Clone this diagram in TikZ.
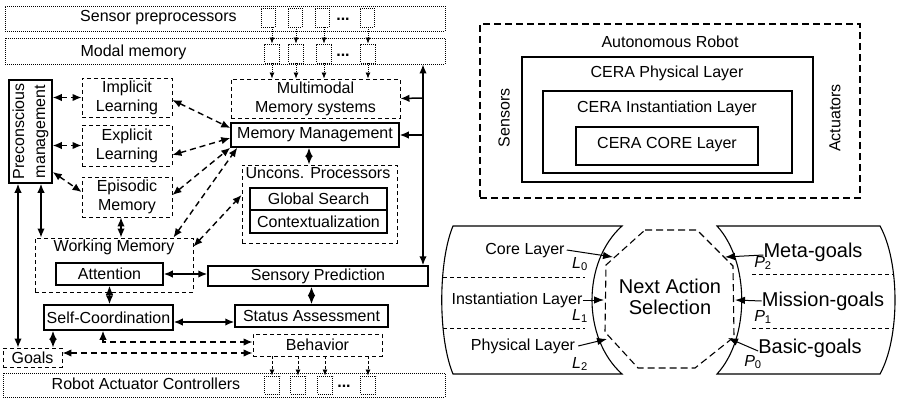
\documentclass[tikz,border=0pt]{standalone}
\usepackage{fontspec}
\setmainfont{Liberation Sans}
\usetikzlibrary{arrows.meta}
\begin{document}
\begin{tikzpicture}[x=1pt,y=-1pt,
  txt/.style={font=\fontsize{16}{19}\selectfont, align=center, inner sep=0pt},
  big/.style={font=\fontsize{20}{21}\selectfont, align=center, inner sep=0pt},
  sz/.style 2 args={minimum width=#1pt, minimum height=#2pt},
  solidbox/.style={draw, line width=1.5pt, txt},
  dashbox/.style={draw, line width=0.9pt, dash pattern=on 4pt off 3pt, txt},
  dotbox/.style={draw, line width=0.9pt, dash pattern=on 1pt off 1pt, txt},
  hd/.tip={Latex[length=9pt,width=7.5pt]},
  sh/.tip={Latex[length=6pt,width=5pt]},
  lh/.tip={Latex[length=10pt,width=7.5pt]},
  link/.style={line width=1.5pt, hd-hd},
  onelink/.style={line width=1.5pt, -hd},
  dlink/.style={line width=1.4pt, dash pattern=on 6pt off 4pt, hd-hd},
  feed/.style={line width=0.8pt, dash pattern=on 1pt off 1pt, -sh},
  outfeed/.style={line width=0.8pt, dash pattern=on 3pt off 2pt, -sh},
  thin/.style={line width=1pt, -lh},
]
\useasboundingbox (0,0) rectangle (899,401);

% ---------- cognitive architecture ----------
\node[dotbox, sz={440}{25}] (sens) at (225,18.5) {};
\node[txt] at (158.5,18) {Sensor preprocessors};
\node[dotbox, sz={440}{26}] (modal) at (225,51) {};
\node[txt] at (133.5,52) {Modal memory};
\node[dotbox, sz={442}{24}] (act) at (224,385) {};
\node[txt] at (146,384) {Robot Actuator Controllers};

% small channel boxes
\foreach \i/\x in {1/268,2/295,3/322,4/367} {\node[dotbox, sz={14}{19}] (s\i) at (\x,17.5) {};}
\foreach \i/\x in {1/272,2/296,3/324,4/368} {\node[dotbox, sz={15}{19}] (m\i) at (\x,53.5) {};}
\foreach \i/\x in {1/272,2/298,3/325,4/368} {\node[dotbox, sz={15}{18}] (a\i) at (\x,385) {};}
\node[txt, font=\bfseries\fontsize{16}{19}\selectfont] at (343,19) {...};
\node[txt, font=\bfseries\fontsize{16}{19}\selectfont] at (343,55) {...};
\node[txt, font=\bfseries\fontsize{16}{19}\selectfont] at (344,386) {...};

\node[dashbox, sz={169}{39}] (multi) at (315.5,98.5) {Multimodal\\Memory systems};
\node[solidbox, sz={168}{24}] (mm) at (315,135) {Memory Management};
\node[dashbox, sz={90}{39}] (imp) at (127,97.5) {Implicit\\Learning};
\node[dashbox, sz={90}{41}] (exp) at (127,145.5) {Explicit\\Learning};
\node[dashbox, sz={90}{40}] (epi) at (127,197) {Episodic\\Memory};
\node[solidbox, sz={43}{103}] (pre) at (30.5,131.5) {};
\node[txt, rotate=90, font=\fontsize{16}{21}\selectfont] at (pre.center) {Preconscious\\management};

\node[dashbox, sz={155}{78}] (unc) at (319.5,204) {};
\node[txt] at (318,173) {Uncons. Processors};
\node[solidbox, sz={137}{22}] (gs) at (318.5,199) {Global Search};
\node[solidbox, sz={137}{23}] (ctx) at (318.5,221.5) {Contextualization};

\node[dashbox, sz={158}{54}] (wm) at (114,265) {};
\node[txt] at (114,247) {Working Memory};
\node[solidbox, sz={107}{22}] (att) at (109.5,274) {Attention};
\node[solidbox, sz={220}{20}] (sp) at (318,276) {Sensory Prediction};
\node[solidbox, sz={129}{25}] (sc) at (108.5,317.5) {Self-Coordination};
\node[solidbox, sz={153}{22}] (st) at (311.5,316) {Status Assessment};
\node[dashbox, sz={129}{22}] (beh) at (317.5,345) {Behavior};
\node[dashbox, sz={59}{19}] (goals) at (32.5,357.5) {Goals};

% channel feeds
\foreach \i in {1,2,3,4} {
  \draw[feed] (s\i.south -| m\i.north) -- (m\i.north);
  \draw[feed] (m\i.south) -- (m\i.south |- multi.north);
  \draw[outfeed] (beh.south -| a\i.north) -- (a\i.north);
}

% right-hand bus
\coordinate (vr) at (423,98);
\draw[link] (vr |- modal.south) -- (vr |- sp.north);
\draw[onelink] (vr) -- (multi.east);
\draw[onelink] (vr |- mm.east) -- (mm.east);

% solid links
\coordinate (p1) at ([xshift=-12.5pt]pre.south);
\draw[link] (p1) -- (p1 |- goals.north);
\coordinate (p2) at ([xshift=10.5pt]pre.south);
\draw[link] (p2) -- (p2 |- wm.north);
\coordinate (e1) at ([xshift=-6pt]epi.south);
\draw[link] (e1) -- (e1 |- wm.north);
\coordinate (m0) at ([xshift=-6pt]mm.south);
\draw[link] (m0) -- (m0 |- unc.north);
\draw[link] (att.east) -- (att.east -| sp.west);
\draw[link] (att.south) -- (att.south |- sc.north);
\draw[link] (st.north) -- (st.north |- sp.south);
\coordinate (q1) at ([yshift=-4.5pt]sc.east);
\draw[link] (q1) -- (q1 -| st.west);
\coordinate (q2) at ([xshift=-55.5pt]sc.south);
\draw[link] (q2) -- (q2 |- goals.north);

% dashed links
\draw[dlink] (pre.east |- imp.west) -- (imp.west);
\draw[dlink] (pre.east |- exp.west) -- (exp.west);
\draw[dlink] ([yshift=-40.5pt]pre.east) -- ([yshift=5pt]epi.west);
\draw[dlink] ([yshift=-2.5pt]imp.east) -- ([yshift=7pt]mm.west);
\draw[dlink] ([yshift=-9.5pt]exp.east) -- ([yshift=-3pt]mm.west);
\draw[dlink] ([yshift=2pt]epi.east) -- (mm.south west);
\draw[dlink] ([xshift=-20pt]wm.north east) -- ([xshift=7pt]mm.south west);
\draw[dlink] ([yshift=-9pt]wm.north east) -- ([yshift=9pt]unc.west);
\coordinate (b1) at ([yshift=3pt]beh.west);
\draw[dlink] ([xshift=-5.5pt]sc.south) |- (b1);
\coordinate (g1) at ([yshift=4.5pt]goals.east);
\draw[dlink] (g1) -- (g1 -| beh.west);

% ---------- nested layers ----------
\node[draw, line width=1.1pt, dash pattern=on 7pt off 4pt, sz={380}{174}] (robot) at (670,111) {};
\node[draw, line width=1.6pt, sz={291}{125}] (phys) at (667.5,119.5) {};
\node[draw, line width=1.2pt, sz={249}{82}] (inst) at (667.5,132) {};
\node[draw, line width=1.2pt, sz={182}{38}] (core) at (667,146) {};
\node[txt] at (670,42) {Autonomous Robot};
\node[txt] at (667,73) {CERA Physical Layer};
\node[txt] at (667,108) {CERA Instantiation Layer};
\node[txt] at (667,145) {CERA CORE Layer};
\node[txt, rotate=90] at (504,118) {Sensors};
\node[txt, rotate=90] at (835,118) {Actuators};

% ---------- next action selection ----------
\draw[line width=1.1pt] (453,226) -- (622,226)
  .. controls (582,262) and (582,338) .. (622,374) -- (453,374)
  .. controls (438,338) and (438,262) .. (453,226) -- cycle;
\draw[line width=1.1pt] (717,226) -- (880,226)
  .. controls (900,262) and (900,338) .. (880,374) -- (717,374)
  .. controls (750,338) and (750,262) .. (717,226) -- cycle;
\draw[line width=0.9pt, dash pattern=on 4pt off 3pt] (443,277) -- (585,277);
\draw[line width=0.9pt, dash pattern=on 4pt off 3pt] (443,328) -- (585,328);
\draw[line width=0.9pt, dash pattern=on 4pt off 3pt] (752,274) -- (893,274);
\draw[line width=0.9pt, dash pattern=on 4pt off 3pt] (752,328) -- (893,328);
\draw[line width=1.1pt, dash pattern=on 7pt off 4pt] (645,230) -- (697,230) -- (733,266) -- (734,337)
  -- (695,368) -- (638,368) -- (605,332) -- (606,265) -- cycle;
\node[big] (nas) at (670,297) {Next Action\\Selection};

\node[txt] (lc) at (525,251) {Core Layer};
\node[txt] (li) at (517,300) {Instantiation Layer};
\node[txt] (lp) at (523,346) {Physical Layer};
\node[txt] at (580,264) {\itshape L\textsubscript{\upshape 0}};
\node[txt] at (580,316) {\itshape L\textsubscript{\upshape 1}};
\node[txt] at (580,364) {\itshape L\textsubscript{\upshape 2}};
\node[big] (gm) at (813,252) {Meta-goals};
\node[big] (gi) at (823,301) {Mission-goals};
\node[big] (gb) at (810,348) {Basic-goals};
\node[txt] at (763,263) {\itshape P\textsubscript{\upshape 2}};
\node[txt] at (763,317) {\itshape P\textsubscript{\upshape 1}};
\node[txt] at (753,362) {\itshape P\textsubscript{\upshape 0}};

\coordinate (t0) at (613,257);
\coordinate (t1) at (604,300);
\coordinate (t2) at (607,339);
\coordinate (u2) at (725,257);
\coordinate (u1) at (735,300);
\coordinate (u0) at (728,338);
\draw[thin] ([xshift=2pt,yshift=1pt]lc.east) -- (t0);
\draw[thin] (li.east) -- (t1);
\draw[thin] ([xshift=3pt]lp.east) -- (t2);
\draw[thin] ([yshift=-3pt]gm.west) -- (u2);
\draw[thin] (gi.west) -- (u1);
\draw[thin] ([yshift=-3pt]gb.west) -- (u0);
\end{tikzpicture}
\end{document}
